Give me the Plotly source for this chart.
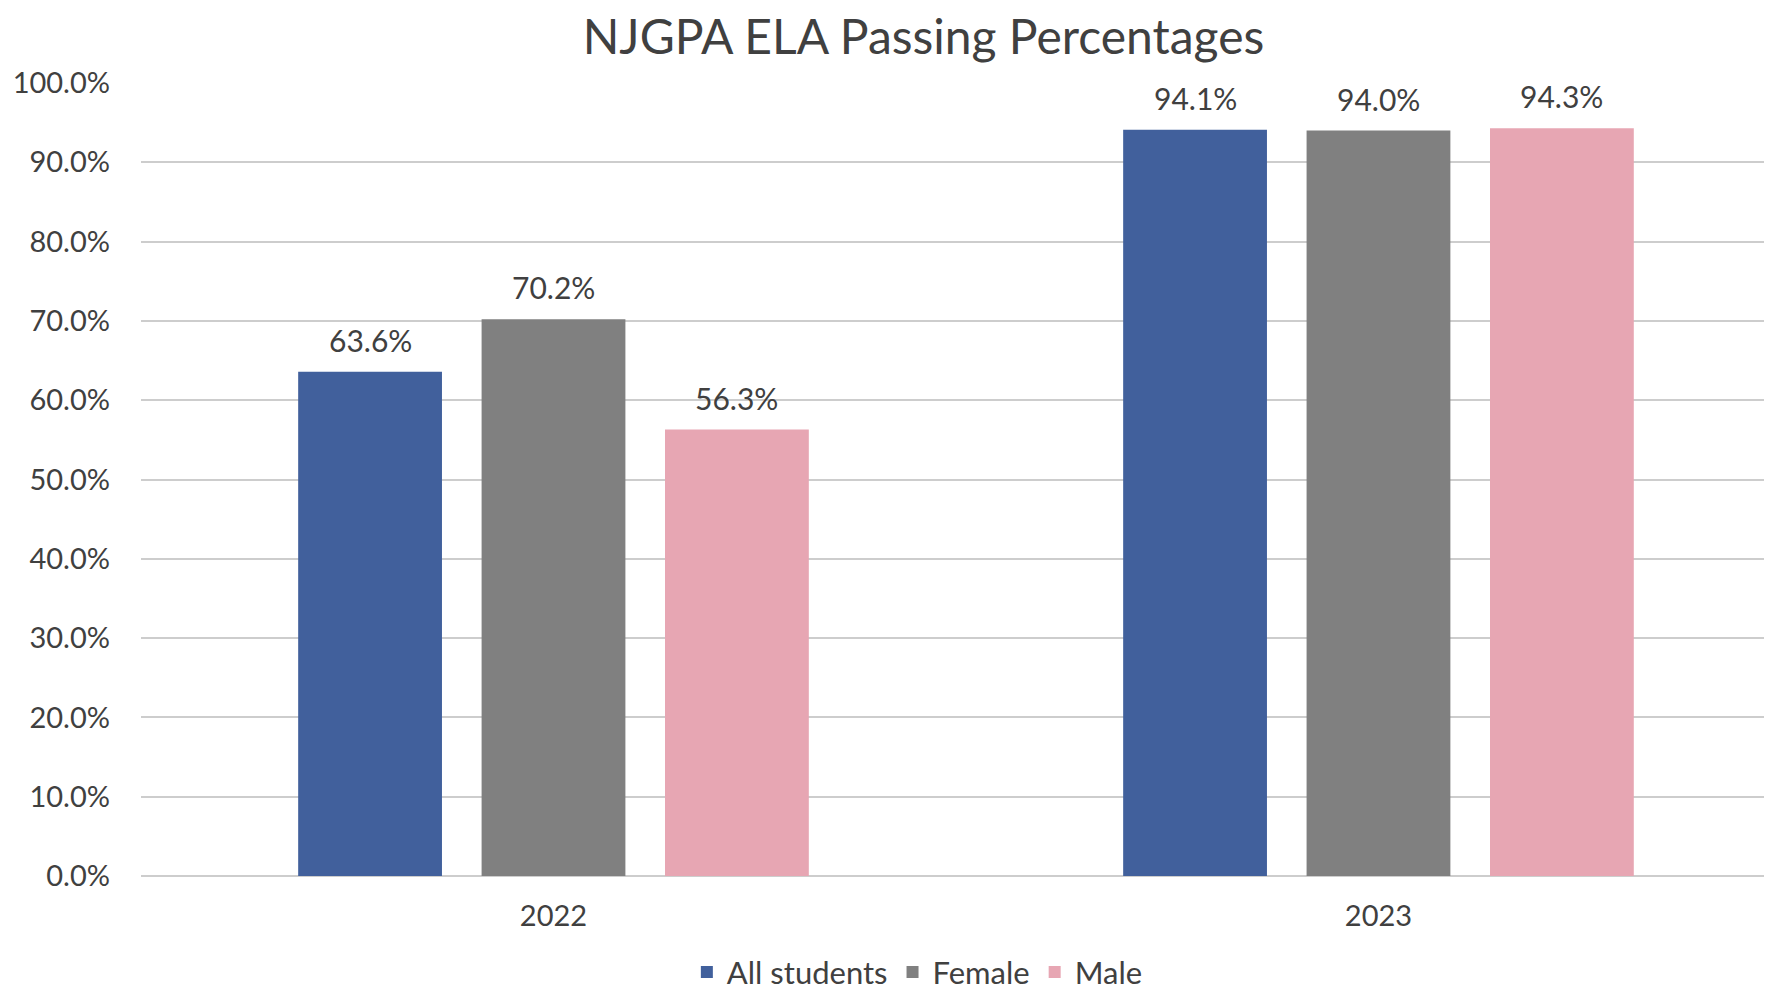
import plotly.graph_objects as go

# Data
years = ["2022", "2023"]
all_students = [63.6, 94.1]
female = [70.2, 94.0]
male = [56.3, 94.3]

series_names = ["All students", "Female", "Male"]
series_values = [all_students, female, male]

BLUE = "#41609C"
GREY = "#808080"
PINK = "#E7A6B3"
TEXT = "#404040"
GRID = "#CDCDCD"
FONT = "Lato"

colors = [BLUE, GREY, PINK]

# page body has an 8px margin, so the figure is 8px smaller each way
WIDTH, HEIGHT = 1764, 984
MARGIN = dict(l=133, r=0, t=75, b=116, pad=0)
X_RANGE = [-0.5, 1.477]
BARGAP = 0.333

fig = go.Figure()
for name, vals, col in zip(series_names, series_values, colors):
    fig.add_trace(
        go.Bar(
            name=name,
            x=years,
            y=vals,
            marker=dict(color=col, line=dict(width=0)),
        )
    )

# data labels sit a little above each bar (plotly's own outside text is too tight)
# annotation x on a category axis is the category index
cat_px = (WIDTH - MARGIN["l"] - MARGIN["r"]) / (X_RANGE[1] - X_RANGE[0])
slot_px = (1 - BARGAP) * cat_px / len(series_names)
for i, vals in enumerate(series_values):
    for j, v in enumerate(vals):
        fig.add_annotation(
            x=j,
            y=v,
            xref="x",
            yref="y",
            xshift=(i - 1) * slot_px,
            yshift=12,
            yanchor="bottom",
            text=f"{v:.1f}%",
            showarrow=False,
            font=dict(size=30, color=TEXT, family=FONT),
        )

fig.update_layout(
    width=WIDTH,
    height=HEIGHT,
    autosize=False,
    barmode="group",
    bargap=BARGAP,
    bargroupgap=0.216,
    plot_bgcolor="white",
    paper_bgcolor="white",
    font=dict(family=FONT, color=TEXT),
    margin=MARGIN,
    title=dict(
        text="NJGPA ELA Passing Percentages",
        x=0.519,
        xanchor="center",
        y=0.9705,
        yanchor="middle",
        font=dict(size=48, color=TEXT, family=FONT),
    ),
    legend=dict(
        orientation="h",
        xref="paper",
        x=0.476,
        xanchor="center",
        yref="container",
        y=0.02,
        yanchor="middle",
        font=dict(size=31, color=TEXT, family=FONT),
        traceorder="normal",
    ),
    xaxis=dict(
        type="category",
        range=X_RANGE,
        showgrid=False,
        showline=False,
        ticks="",
        tickfont=dict(size=29, color=TEXT, family=FONT),
        ticklabelstandoff=20,
    ),
    yaxis=dict(
        range=[0, 100],
        dtick=10,
        tickformat=".1f",
        ticksuffix="%",
        showgrid=True,
        gridcolor=GRID,
        gridwidth=2,
        zeroline=True,
        zerolinecolor=GRID,
        zerolinewidth=2,
        showline=False,
        tickfont=dict(size=29, color=TEXT, family=FONT),
        ticklabelstandoff=30,
    ),
)

fig.write_html("out.html")
